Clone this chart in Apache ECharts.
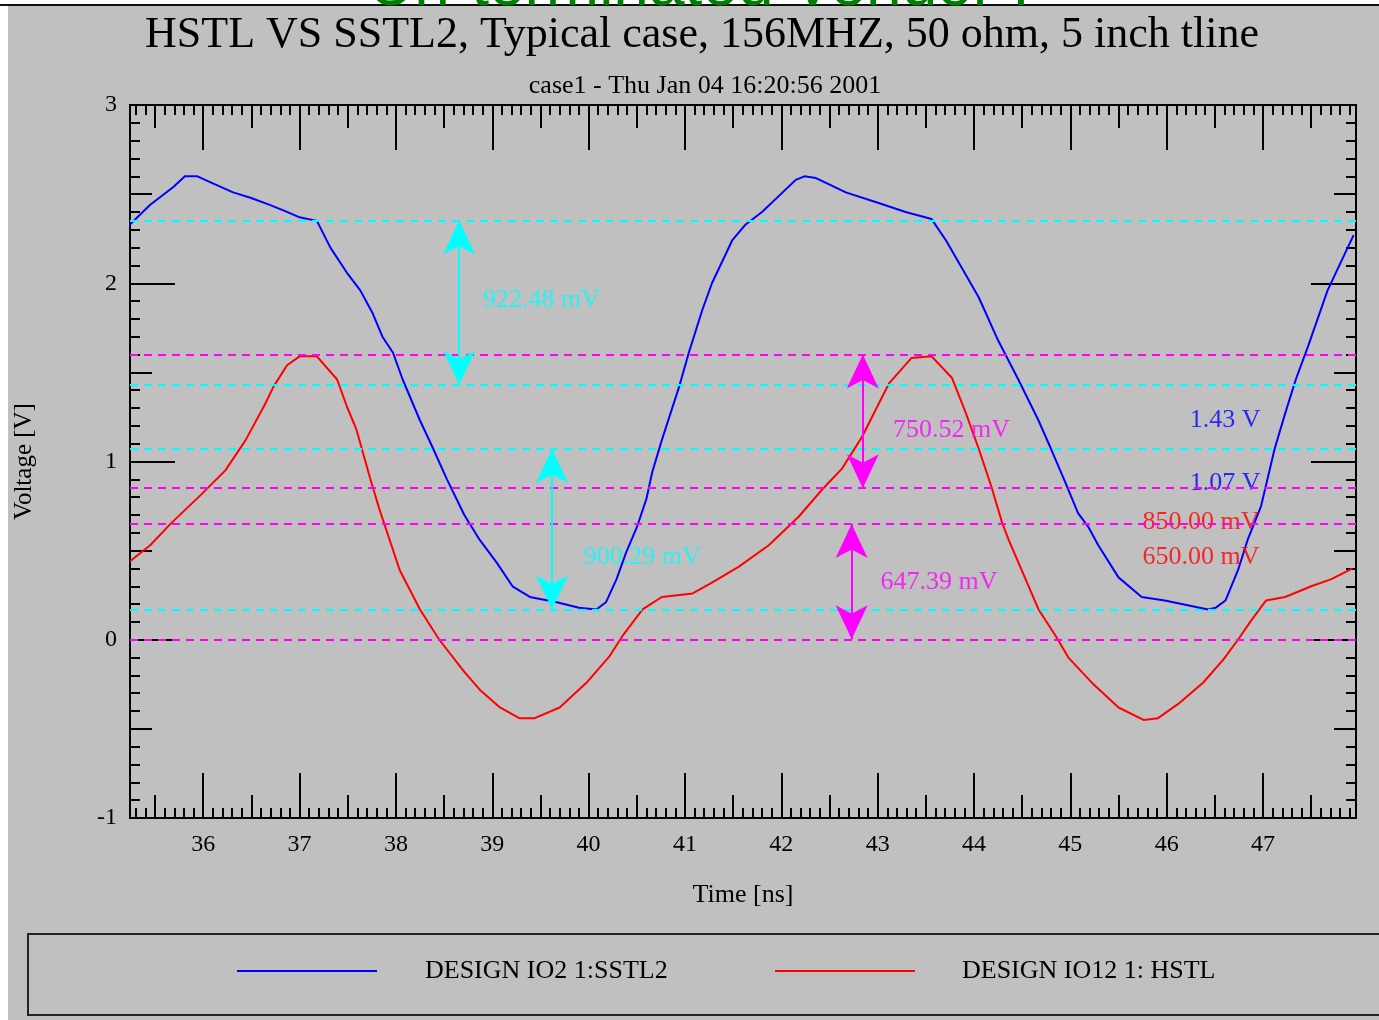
<!DOCTYPE html>
<html>
<head>
<meta charset="utf-8">
<title>HSTL VS SSTL2</title>
<script src="https://cdn.jsdelivr.net/npm/echarts@6/dist/echarts.min.js"></script>
<style>
  html, body { margin: 0; padding: 0; background: #fff; }
  #chart { width: 1379px; height: 1020px; }
</style>
</head>
<body>
<div id="chart"></div>
<script>
// waveforms, [time ns, volts]
const sstl2 = [
  [35.22, 2.32], [35.45, 2.44], [35.69, 2.54], [35.81, 2.60], [35.94, 2.60], [36.10, 2.56],
  [36.31, 2.51], [36.49, 2.48], [36.69, 2.44], [36.87, 2.40], [37.00, 2.37], [37.18, 2.35],
  [37.32, 2.20], [37.49, 2.06], [37.63, 1.96], [37.76, 1.83], [37.86, 1.70], [37.97, 1.61],
  [38.07, 1.46], [38.25, 1.23], [38.38, 1.08], [38.53, 0.90], [38.71, 0.70], [38.87, 0.56],
  [39.05, 0.43], [39.21, 0.30], [39.39, 0.24], [39.67, 0.21], [39.90, 0.18], [40.08, 0.17],
  [40.18, 0.21], [40.29, 0.34], [40.39, 0.49], [40.50, 0.63], [40.60, 0.79], [40.66, 0.94],
  [40.76, 1.12], [40.94, 1.42], [41.04, 1.61], [41.18, 1.85], [41.28, 2.00], [41.49, 2.24],
  [41.63, 2.33], [41.80, 2.40], [42.15, 2.58], [42.24, 2.60], [42.36, 2.59], [42.67, 2.51],
  [43.01, 2.45], [43.29, 2.40], [43.56, 2.36], [43.71, 2.24], [43.87, 2.09], [44.05, 1.92],
  [44.25, 1.68], [44.46, 1.46], [44.67, 1.23], [44.80, 1.07], [44.95, 0.88], [45.08, 0.71],
  [45.19, 0.63], [45.29, 0.53], [45.50, 0.35], [45.74, 0.24], [45.98, 0.22], [46.43, 0.17],
  [46.51, 0.18], [46.61, 0.22], [46.74, 0.39], [46.84, 0.56], [46.98, 0.75], [47.12, 1.07],
  [47.23, 1.27], [47.34, 1.46], [47.47, 1.65], [47.67, 1.96], [47.94, 2.27]
];
const hstl = [
  [35.24, 0.44], [35.45, 0.53], [35.66, 0.65], [35.97, 0.81], [36.23, 0.95], [36.44, 1.12],
  [36.64, 1.32], [36.73, 1.42], [36.87, 1.54], [37.00, 1.59], [37.18, 1.59], [37.39, 1.46],
  [37.49, 1.31], [37.59, 1.18], [37.73, 0.91], [37.83, 0.73], [38.04, 0.39], [38.25, 0.17],
  [38.45, 0.00], [38.71, -0.18], [38.87, -0.28], [39.08, -0.38], [39.28, -0.44], [39.44, -0.44],
  [39.70, -0.38], [39.98, -0.24], [40.22, -0.09], [40.35, 0.02], [40.56, 0.17], [40.76, 0.24],
  [41.08, 0.26], [41.28, 0.32], [41.56, 0.41], [41.87, 0.53], [42.18, 0.69], [42.42, 0.84],
  [42.63, 0.96], [42.84, 1.14], [42.98, 1.29], [43.12, 1.44], [43.35, 1.58], [43.56, 1.59],
  [43.77, 1.47], [43.91, 1.28], [44.05, 1.07], [44.18, 0.86], [44.29, 0.66], [44.36, 0.56],
  [44.67, 0.17], [44.85, 0.02], [44.98, -0.10], [45.24, -0.25], [45.50, -0.38], [45.76, -0.45],
  [45.91, -0.44], [46.12, -0.36], [46.38, -0.24], [46.59, -0.11], [46.74, 0.00], [46.88, 0.11],
  [47.03, 0.22], [47.23, 0.24], [47.50, 0.30], [47.71, 0.34], [47.93, 0.40]
];
// dashed measurement levels (V)
const cyanLevels = [2.3525, 1.43, 1.0697, 0.1697];
const magentaLevels = [1.6005, 0.85, 0.65, 0.0026];
// double arrows: [time, from V, to V]
const cyanArrows = [[38.656, 2.3525, 1.43], [39.62, 1.0697, 0.1697]];
const magentaArrows = [[42.846, 1.6005, 0.85], [42.73, 0.65, 0.0026]];
// text notes: [time, V, text, colour]
const notes = [
  [38.905, 1.907, '922.48 mV', '#00ffff'],
  [39.95, 0.466, '900.29 mV', '#00ffff'],
  [43.16, 1.173, '750.52 mV', '#ff00ff'],
  [43.03, 0.325, '647.39 mV', '#ff00ff'],
  [46.24, 1.234, '1.43 V', '#0000ff'],
  [46.24, 0.881, '1.07 V', '#0000ff'],
  [45.75, 0.662, '850.00 mV', '#ff0000'],
  [45.75, 0.466, '650.00 mV', '#ff0000']
];
const timeLabels = [36, 37, 38, 39, 40, 41, 42, 43, 44, 45, 46, 47];
const tMin = 35.24, tMax = 47.965;

const serif = 'Liberation Serif';
const halfTicks = [];
for (let i = 71; i <= 95; i++) halfTicks.push(i / 2);
const minorTicks = [];
for (let i = 353; i <= 479; i++) minorTicks.push(i / 10);

function xAx(pos, vals, len, withLabel) {
  const ax = {
    type: 'value', position: pos, min: tMin, max: tMax,
    axisLine: { show: true, onZero: false, lineStyle: { color: '#000', width: 2 } },
    axisTick: { show: true, inside: true, length: len, customValues: vals, lineStyle: { color: '#000', width: 2 } },
    axisLabel: { show: false },
    splitLine: { show: false }
  };
  if (withLabel) {
    ax.axisLabel = { show: true, customValues: timeLabels, margin: 15, color: '#000', fontFamily: serif, fontSize: 24 };
    ax.name = 'Time [ns]';
    ax.nameLocation = 'middle';
    ax.nameGap = 64;
    ax.nameTextStyle = { color: '#000', fontFamily: serif, fontSize: 26 };
  }
  return ax;
}
function yAx(pos, step, len, withLabel) {
  const ax = {
    type: 'value', position: pos, min: -1, max: 3, interval: step,
    axisLine: { show: true, onZero: false, lineStyle: { color: '#000', width: 2 } },
    axisTick: { show: true, inside: true, length: len, lineStyle: { color: '#000', width: 2 } },
    axisLabel: { show: false },
    splitLine: { show: false }
  };
  if (withLabel) {
    ax.axisLabel = { show: true, margin: 13, color: '#000', fontFamily: serif, fontSize: 24 };
    ax.name = 'Voltage [V]';
    ax.nameLocation = 'middle';
    ax.nameRotate = 90;
    ax.nameGap = 93;
    ax.nameTextStyle = { color: '#000', fontFamily: serif, fontSize: 25 };
  }
  return ax;
}

function level(v, color) {
  return { yAxis: v, lineStyle: { color: color, width: 2, type: [8, 6] } };
}
function arrow(a, color) {
  return [
    { coord: [a[0], a[1]], symbol: 'arrow', symbolSize: [24, 34] },
    { coord: [a[0], a[2]], symbol: 'arrow', symbolSize: [24, 34], lineStyle: { color: color, width: 2, type: 'solid' } }
  ];
}

const legendBase = {
  top: 958, padding: 0, icon: 'rect', itemWidth: 140, itemHeight: 2
};

const chart = echarts.init(document.getElementById('chart'));
chart.setOption({
  animation: false,
  backgroundColor: '#c0c0c0',
  title: [
    {
      text: 'HSTL VS SSTL2, Typical case, 156MHZ, 50 ohm, 5 inch tline',
      left: 697, top: 8, textAlign: 'center',
      textStyle: { color: '#000', fontFamily: serif, fontSize: 44, fontWeight: 'normal' }
    },
    {
      text: 'case1 - Thu Jan 04 16:20:56 2001',
      left: 700, top: 68, textAlign: 'center',
      textStyle: { color: '#000', fontFamily: serif, fontSize: 26, fontWeight: 'normal' }
    }
  ],
  legend: [
    Object.assign({}, legendBase, {
      data: ['DESIGN IO2 1:SSTL2'], left: 237,
      textStyle: { color: '#000', fontFamily: serif, fontSize: 26, padding: [0, 0, 0, 43] }
    }),
    Object.assign({}, legendBase, {
      data: ['DESIGN IO12 1: HSTL'], left: 775,
      textStyle: { color: '#000', fontFamily: serif, fontSize: 26, padding: [0, 0, 0, 42] }
    })
  ],
  grid: { left: 130, right: 23, top: 105, bottom: 202 },
  xAxis: [
    xAx('bottom', minorTicks, 10, true),
    xAx('bottom', halfTicks, 23, false),
    xAx('bottom', timeLabels, 45, false),
    xAx('top', minorTicks, 10, false),
    xAx('top', halfTicks, 23, false),
    xAx('top', timeLabels, 45, false)
  ],
  yAxis: [
    yAx('left', 1, 45, true),
    yAx('left', 0.5, 22, false),
    yAx('left', 0.1, 10, false),
    yAx('right', 1, 45, false),
    yAx('right', 0.5, 22, false),
    yAx('right', 0.1, 10, false)
  ],
  graphic: [
    { type: 'rect', z: 100, shape: { x: 0, y: 0, width: 8, height: 1020 }, style: { fill: '#fff' } },
    { type: 'rect', z: 100, shape: { x: 0, y: 0, width: 1379, height: 4 }, style: { fill: '#fff' } },
    { type: 'rect', z: 100, shape: { x: 0, y: 4, width: 1379, height: 2 }, style: { fill: '#111' } },
    {
      type: 'text', z: 101, x: 368, y: 19,
      style: { text: 'Un-terminated Vendor I', font: '64px "Liberation Sans"', fill: '#008000', align: 'left', verticalAlign: 'bottom' }
    },
    { type: 'rect', z: 100, shape: { x: 28, y: 934, width: 1400, height: 81 }, style: { fill: 'none', stroke: '#222', lineWidth: 2 } }
  ],
  series: [
    {
      name: 'DESIGN IO2 1:SSTL2', type: 'line', data: sstl2, symbol: 'none',
      lineStyle: { color: '#0000ff', width: 2 }, itemStyle: { color: '#0000ff' }, z: 3
    },
    {
      name: 'DESIGN IO12 1: HSTL', type: 'line', data: hstl, symbol: 'none',
      lineStyle: { color: '#ff0000', width: 2 }, itemStyle: { color: '#ff0000' }, z: 3
    },
    {
      name: 'notes', type: 'scatter', symbolSize: 0, silent: true, z: 4,
      data: notes.map(n => ({
        value: [n[0], n[1]],
        label: { show: true, position: 'right', distance: 0, formatter: n[2], color: n[3], fontFamily: serif, fontSize: 26 }
      })),
      markLine: {
        silent: true, symbol: ['none', 'none'], label: { show: false },
        data: cyanLevels.map(v => level(v, '#00ffff'))
          .concat(magentaLevels.map(v => level(v, '#ff00ff')))
          .concat(cyanArrows.map(a => arrow(a, '#00ffff')))
          .concat(magentaArrows.map(a => arrow(a, '#ff00ff')))
      }
    }
  ]
});
</script>
</body>
</html>
